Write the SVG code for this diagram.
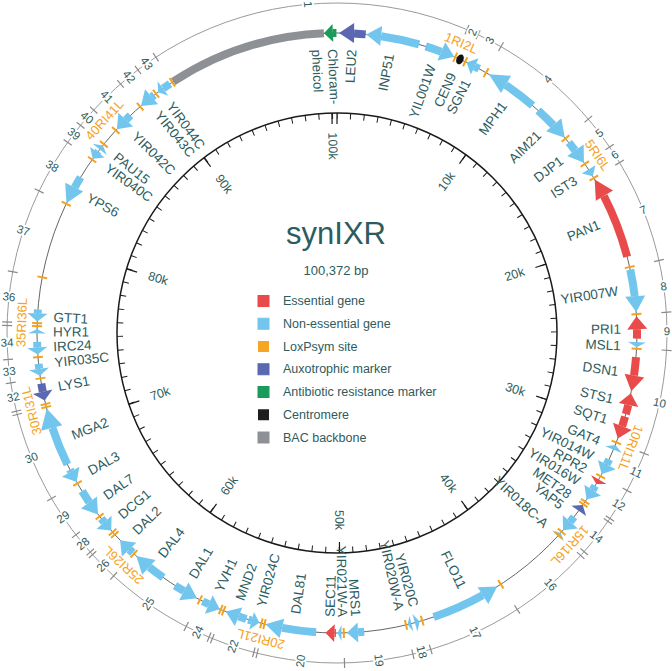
<svg xmlns="http://www.w3.org/2000/svg" width="672" height="671" viewBox="0 0 672 671">
<style>
text{font-family:"Liberation Sans",Arial,sans-serif;fill:#2d5c5e}
.gl{font-size:13.5px;dominant-baseline:central}
.ge{text-anchor:end}
.gs{text-anchor:start}
.kb{font-size:12.5px;text-anchor:middle;dominant-baseline:central}
.sn{font-size:11.5px;text-anchor:middle;dominant-baseline:central;stroke:#fff;stroke-width:4;paint-order:stroke;stroke-linejoin:round}
.lx{font-size:13px;text-anchor:middle;fill:#f4a21d}
.es{fill:#e94b4b;stroke:#e94b4b}
.ne{fill:#72c6ee;stroke:#72c6ee}
.ax{fill:#5a67b1;stroke:#5a67b1}
.ab{fill:#1a9b5a;stroke:#1a9b5a}
.bac{fill:#8d9196;stroke:#8d9196}
circle.b{fill:none;stroke-width:8}
polygon.h{stroke:none}
.lp line{stroke:#f4a21d;stroke-width:2}
.rt line{stroke:#8a8a8a;stroke-width:1.2}
.mj line{stroke:#1a1a1a;stroke-width:1.2}
.lg{font-size:12.5px;dominant-baseline:central}
</style>
<rect width="672" height="671" fill="#fff"/>
<g transform="translate(337,333)">
  <!-- scale circle -->
  <g id="scale">
    <circle r="220" fill="none" stroke="#1a1a1a" stroke-width="1.5"/>
    <circle r="217" fill="none" stroke="#1a1a1a" stroke-width="6" stroke-dasharray="1 12.584" stroke-dashoffset="0.5" transform="rotate(-90)"/>
    <g class="mj">
      <line y1="-209" y2="-220"/>
      <line y1="-209" y2="-220" transform="rotate(35.87)"/>
      <line y1="-209" y2="-220" transform="rotate(71.73)"/>
      <line y1="-209" y2="-220" transform="rotate(107.6)"/>
      <line y1="-209" y2="-220" transform="rotate(143.46)"/>
      <line y1="-209" y2="-220" transform="rotate(179.33)"/>
      <line y1="-209" y2="-220" transform="rotate(215.19)"/>
      <line y1="-209" y2="-220" transform="rotate(251.06)"/>
      <line y1="-209" y2="-220" transform="rotate(286.93)"/>
      <line y1="-209" y2="-220" transform="rotate(322.79)"/>
      <line y1="-209" y2="-220" transform="rotate(358.66)"/>
    </g>
    <text class="kb" transform="rotate(35.87) translate(0,-187) rotate(-90)">10k</text>
    <text class="kb" transform="rotate(71.73) translate(0,-187) rotate(-90)">20k</text>
    <text class="kb" transform="rotate(107.6) translate(0,-187) rotate(-90)">30k</text>
    <text class="kb" transform="rotate(143.46) translate(0,-187) rotate(-90)">40k</text>
    <text class="kb" transform="rotate(179.33) translate(0,-187) rotate(-90)">50k</text>
    <text class="kb" transform="rotate(215.19) translate(0,-187) rotate(90)">60k</text>
    <text class="kb" transform="rotate(251.06) translate(0,-187) rotate(90)">70k</text>
    <text class="kb" transform="rotate(286.93) translate(0,-187) rotate(90)">80k</text>
    <text class="kb" transform="rotate(322.79) translate(0,-187) rotate(90)">90k</text>
    <text class="kb" transform="rotate(358.66) translate(0,-187) rotate(90)">100k</text>
  </g>

  <!-- outer segment ring -->
  <g id="segments">
    <circle r="330" fill="none" stroke="#9a9a9a" stroke-width="1"/>
    <g class="rt">
      <line y1="-325" y2="-335" transform="rotate(23.2)"/><line y1="-325" y2="-335" transform="rotate(25.3)"/>
      <line y1="-325" y2="-335" transform="rotate(29.8)"/><line y1="-325" y2="-335" transform="rotate(49.6)"/>
      <line y1="-325" y2="-335" transform="rotate(55.7)"/><line y1="-325" y2="-335" transform="rotate(58.9)"/>
      <line y1="-325" y2="-335" transform="rotate(77.3)"/><line y1="-325" y2="-335" transform="rotate(86.4)"/>
      <line y1="-325" y2="-335" transform="rotate(93)"/><line y1="-325" y2="-335" transform="rotate(111.4)"/>
      <line y1="-325" y2="-335" transform="rotate(118.5)"/><line y1="-325" y2="-335" transform="rotate(124.2)"/>
      <line y1="-325" y2="-335" transform="rotate(124.8)"/><line y1="-325" y2="-335" transform="rotate(131.5)"/>
      <line y1="-325" y2="-335" transform="rotate(132.4)"/><line y1="-325" y2="-335" transform="rotate(146.9)"/>
      <line y1="-325" y2="-335" transform="rotate(163.5)"/><line y1="-325" y2="-335" transform="rotate(166.7)"/>
      <line y1="-325" y2="-335" transform="rotate(178.7)"/><line y1="-325" y2="-335" transform="rotate(194)"/>
      <line y1="-325" y2="-335" transform="rotate(194.6)"/><line y1="-325" y2="-335" transform="rotate(202.2)"/>
      <line y1="-325" y2="-335" transform="rotate(202.8)"/><line y1="-325" y2="-335" transform="rotate(207.2)"/>
      <line y1="-325" y2="-335" transform="rotate(222.6)"/><line y1="-325" y2="-335" transform="rotate(227.8)"/>
      <line y1="-325" y2="-335" transform="rotate(228.4)"/><line y1="-325" y2="-335" transform="rotate(232.3)"/>
      <line y1="-325" y2="-335" transform="rotate(239.9)"/><line y1="-325" y2="-335" transform="rotate(255.7)"/>
      <line y1="-325" y2="-335" transform="rotate(256.3)"/><line y1="-325" y2="-335" transform="rotate(261.3)"/>
      <line y1="-325" y2="-335" transform="rotate(265.4)"/><line y1="-325" y2="-335" transform="rotate(271.3)"/>
      <line y1="-325" y2="-335" transform="rotate(271.9)"/><line y1="-325" y2="-335" transform="rotate(280.7)"/>
      <line y1="-325" y2="-335" transform="rotate(295.5)"/><line y1="-325" y2="-335" transform="rotate(305.3)"/>
      <line y1="-325" y2="-335" transform="rotate(309)"/><line y1="-325" y2="-335" transform="rotate(312.5)"/>
      <line y1="-325" y2="-335" transform="rotate(319)"/><line y1="-325" y2="-335" transform="rotate(322.9)"/>
      <line y1="-325" y2="-335" transform="rotate(326.7)"/>
    </g>
    <text class="sn" transform="rotate(354.95) translate(0,-330) rotate(90)">1</text>
    <text class="sn" transform="rotate(24.25) translate(0,-330) rotate(-90)">2</text>
    <text class="sn" transform="rotate(27.55) translate(0,-330) rotate(-90)">3</text>
    <text class="sn" transform="rotate(39.7) translate(0,-330) rotate(-90)">4</text>
    <text class="sn" transform="rotate(52.65) translate(0,-330) rotate(-90)">5</text>
    <text class="sn" transform="rotate(57.3) translate(0,-330) rotate(-90)">6</text>
    <text class="sn" transform="rotate(68.1) translate(0,-330) rotate(-90)">7</text>
    <text class="sn" transform="rotate(81.85) translate(0,-330) rotate(-90)">8</text>
    <text class="sn" transform="rotate(89.7) translate(0,-330) rotate(-90)">9</text>
    <text class="sn" transform="rotate(102.2) translate(0,-330) rotate(-90)">10</text>
    <text class="sn" transform="rotate(114.95) translate(0,-330) rotate(-90)">11</text>
    <text class="sn" transform="rotate(121.35) translate(0,-330) rotate(-90)">12</text>
    <text class="sn" transform="rotate(128.15) translate(0,-330) rotate(-90)">14</text>
    <text class="sn" transform="rotate(139.65) translate(0,-330) rotate(-90)">16</text>
    <text class="sn" transform="rotate(155.2) translate(0,-330) rotate(-90)">17</text>
    <text class="sn" transform="rotate(165.1) translate(0,-330) rotate(-90)">18</text>
    <text class="sn" transform="rotate(172.7) translate(0,-330) rotate(-90)">19</text>
    <text class="sn" transform="rotate(186.35) translate(0,-330) rotate(90)">20</text>
    <text class="sn" transform="rotate(198.4) translate(0,-330) rotate(90)">22</text>
    <text class="sn" transform="rotate(205) translate(0,-330) rotate(90)">24</text>
    <text class="sn" transform="rotate(214.9) translate(0,-330) rotate(90)">25</text>
    <text class="sn" transform="rotate(225.2) translate(0,-330) rotate(90)">26</text>
    <text class="sn" transform="rotate(230.35) translate(0,-330) rotate(90)">28</text>
    <text class="sn" transform="rotate(236.1) translate(0,-330) rotate(90)">29</text>
    <text class="sn" transform="rotate(247.8) translate(0,-330) rotate(90)">30</text>
    <text class="sn" transform="rotate(258.8) translate(0,-330) rotate(90)">32</text>
    <text class="sn" transform="rotate(263.35) translate(0,-330) rotate(90)">33</text>
    <text class="sn" transform="rotate(268.35) translate(0,-330) rotate(90)">34</text>
    <text class="sn" transform="rotate(276.3) translate(0,-330) rotate(90)">36</text>
    <text class="sn" transform="rotate(288.1) translate(0,-330) rotate(90)">37</text>
    <text class="sn" transform="rotate(300.4) translate(0,-330) rotate(90)">38</text>
    <text class="sn" transform="rotate(307.15) translate(0,-330) rotate(90)">39</text>
    <text class="sn" transform="rotate(310.75) translate(0,-330) rotate(90)">40</text>
    <text class="sn" transform="rotate(315.75) translate(0,-330) rotate(90)">41</text>
    <text class="sn" transform="rotate(320.95) translate(0,-330) rotate(90)">42</text>
    <text class="sn" transform="rotate(324.8) translate(0,-330) rotate(90)">43</text>
  </g>

  <!-- gene track backbone line -->
  <circle id="track" r="300" fill="none" stroke="#555" stroke-width="0.9"/>

  <g id="features">
    <g id="bac"><circle class="b bac" r="300" stroke-dasharray="160.22 2000" transform="rotate(236.9)"/></g>
    <g id="CamR"><circle class="b ab" r="300" stroke-dasharray="3.56 2000" transform="rotate(269.22)"/><polygon class="h ab" points="0,-300 9,-309 9,-291" transform="rotate(357.5)"/>
      <text class="gl gs" transform="rotate(357.55) translate(0,-284) rotate(90)"><tspan x="0" y="-8">Chloram-</tspan><tspan x="0" y="8">pheicol</tspan></text></g>
    <g id="LEU2"><circle class="b ax" r="300" stroke-dasharray="11.73 2000" transform="rotate(-86.74)"/><polygon class="h ax" points="0,-300 15,-310 15,-290" transform="rotate(0.4)"/>
      <text class="gl ge" transform="rotate(3) translate(0,-284) rotate(-90)">LEU2</text></g>
    <g id="INP51"><circle class="b ne" r="300" stroke-dasharray="38.96 2000" transform="rotate(-81.54)"/><polygon class="h ne" points="0,-300 15,-310 15,-290" transform="rotate(5.6)"/>
      <text class="gl ge" transform="rotate(10.7) translate(0,-284) rotate(-90)">INP51</text></g>
    <g id="YIL001W"><circle class="b ne" r="300" stroke-dasharray="16.39 2000" transform="rotate(-72.8)"/><polygon class="h ne" points="0,-300 -14,-310 -14,-290" transform="rotate(23)"/>
      <text class="gl ge" transform="rotate(19.5) translate(0,-284) rotate(-90)">YIL001W</text></g>
    <g id="CEN9"><ellipse cy="-300" rx="3.5" ry="5.2" fill="#111" transform="rotate(24.2)"/>
      <text class="gl ge" transform="rotate(24) translate(0,-284) rotate(-90)">CEN9</text></g>
    <g id="SGN1"><circle class="b ne" r="300" stroke-dasharray="5.13 2000" transform="rotate(-62.68)"/><polygon class="h ne" points="0,-300 9,-309 9,-291" transform="rotate(25.6)"/>
      <text class="gl ge" transform="rotate(27.3) translate(0,-284) rotate(-90)">SGN1</text></g>
    <g id="MPH1"><circle class="b ne" r="300" stroke-dasharray="33.93 2000" transform="rotate(-55.78)"/><polygon class="h ne" points="0,-300 20,-310 20,-290" transform="rotate(30.4)"/>
      <text class="gl ge" transform="rotate(36) translate(0,-284) rotate(-90)">MPH1</text></g>
    <g id="AIM21"><circle class="b ne" r="300" stroke-dasharray="21.21 2000" transform="rotate(-47.9)"/><polygon class="h ne" points="0,-300 -17,-310 -17,-290" transform="rotate(49.4)"/>
      <text class="gl ge" transform="rotate(45.3) translate(0,-284) rotate(-90)">AIM21</text></g>
    <g id="DJP1"><circle class="b ne" r="300" stroke-dasharray="10.16 2000" transform="rotate(-39.4)"/><polygon class="h ne" points="0,-300 -15,-310 -15,-290" transform="rotate(55.4)"/>
      <text class="gl ge" transform="rotate(52.3) translate(0,-284) rotate(-90)">DJP1</text></g>
    <g id="IST3"><polygon class="h ne" points="0,-300 -8,-308 -8,-292" transform="rotate(58.5)"/>
      <text class="gl ge" transform="rotate(57.3) translate(0,-284) rotate(-90)">IST3</text></g>
    <g id="PAN1"><circle class="b es" r="300" stroke-dasharray="65.29 2000" transform="rotate(-27.17)"/><polygon class="h es" points="0,-300 19,-310 19,-290" transform="rotate(59.2)"/>
      <text class="gl ge" transform="rotate(67.5) translate(0,-284) rotate(-90)">PAN1</text></g>
    <g id="YIR007W"><circle class="b ne" r="300" stroke-dasharray="26.91 2000" transform="rotate(-12.2)"/><polygon class="h ne" points="0,-300 -16,-310 -16,-290" transform="rotate(86)"/>
      <text class="gl ge" transform="rotate(81.5) translate(0,-284) rotate(-90)">YIR007W</text></g>
    <g id="PRI1"><circle class="b es" r="300" stroke-dasharray="9.53 2000" transform="rotate(-0.72)"/><polygon class="h es" points="0,-300 13,-310 13,-290" transform="rotate(86.8)"/>
      <text class="gl ge" transform="rotate(89.2) translate(0,-284) rotate(-90)">PRI1</text></g>
    <g id="MSL1"><polygon class="h ne" points="0,-300 -5,-309 -5,-291" transform="rotate(92.7)"/>
      <text class="gl ge" transform="rotate(92.6) translate(0,-284) rotate(-90)">MSL1</text></g>
    <g id="DSN1"><circle class="b es" r="300" stroke-dasharray="18.54 2000" transform="rotate(4.6)"/><polygon class="h es" points="0,-300 -16,-310 -16,-290" transform="rotate(101.2)"/>
      <text class="gl ge" transform="rotate(97.8) translate(0,-284) rotate(-90)">DSN1</text></g>
    <g id="STS1"><circle class="b es" r="300" stroke-dasharray="9.48 2000" transform="rotate(13.89)"/><polygon class="h es" points="0,-300 12,-310 12,-290" transform="rotate(101.6)"/>
      <text class="gl ge" transform="rotate(103.5) translate(0,-284) rotate(-90)">STS1</text></g>
    <g id="SQT1"><circle class="b es" r="300" stroke-dasharray="10.05 2000" transform="rotate(16.2)"/><polygon class="h es" points="0,-300 -13,-310 -13,-290" transform="rotate(110.6)"/>
      <text class="gl ge" transform="rotate(107.8) translate(0,-284) rotate(-90)">SQT1</text></g>
    <g id="GAT4"><polygon class="h ne" points="0,-300 5,-309 5,-291" transform="rotate(111.9)"/>
      <text class="gl ge" transform="rotate(112.4) translate(0,-284) rotate(-90)">GAT4</text></g>
    <g id="YIR014W"><circle class="b ne" r="300" stroke-dasharray="5.76 2000" transform="rotate(24.9)"/><polygon class="h ne" points="0,-300 -11,-310 -11,-290" transform="rotate(118.1)"/>
      <text class="gl ge" transform="rotate(115.7) translate(0,-284) rotate(-90)">YIR014W</text></g>
    <g id="RPR2"><polygon class="h es" points="0,-300 -5,-309 -5,-291" transform="rotate(120.2)"/>
      <text class="gl ge" transform="rotate(118.7) translate(0,-284) rotate(-90)">RPR2</text></g>
    <g id="YIR016W"><circle class="b ne" r="300" stroke-dasharray="5.24 2000" transform="rotate(30.6)"/><polygon class="h ne" points="0,-300 -11,-310 -11,-290" transform="rotate(123.7)"/>
      <text class="gl ge" transform="rotate(121.6) translate(0,-284) rotate(-90)">YIR016W</text></g>
    <g id="MET28"><polygon class="h ax" points="0,-300 7,-309 7,-291" transform="rotate(125)"/>
      <text class="gl ge" transform="rotate(124.9) translate(0,-284) rotate(-90)">MET28</text></g>
    <g id="YAP5"><circle class="b ne" r="300" stroke-dasharray="6.28 2000" transform="rotate(37.8)"/><polygon class="h ne" points="0,-300 -11,-310 -11,-290" transform="rotate(131.1)"/>
      <text class="gl ge" transform="rotate(127.6) translate(0,-284) rotate(-90)">YAP5</text></g>
    <g id="YIR018C-A"><polygon class="h ne" points="0,-300 4,-308 4,-292" transform="rotate(131.8)"/>
      <text class="gl ge" transform="rotate(132.6) translate(0,-284) rotate(-90)">YIR018C-A</text></g>
    <g id="FLO11"><circle class="b ne" r="300" stroke-dasharray="53.67 2000" transform="rotate(60.95)"/><polygon class="h ne" points="0,-300 17,-310 17,-290" transform="rotate(147.7)"/>
      <text class="gl ge" transform="rotate(153.8) translate(0,-284) rotate(-90)">FLO11</text></g>
    <g id="YIR020C"><polygon class="h ne" points="0,-300 5,-309 5,-291" transform="rotate(164)"/>
      <text class="gl ge" transform="rotate(164.3) translate(0,-284) rotate(-90)">YIR020C</text></g>
    <g id="YIR020W-A"><polygon class="h ne" points="0,-300 -4,-308 -4,-292" transform="rotate(166.4)"/>
      <text class="gl ge" transform="rotate(167.3) translate(0,-284) rotate(-90)">YIR020W-A</text></g>
    <g id="MRS1"><circle class="b ne" r="300" stroke-dasharray="6.28 2000" transform="rotate(84.8)"/><polygon class="h ne" points="0,-300 -11,-310 -11,-290" transform="rotate(178.1)"/>
      <text class="gl ge" transform="rotate(176.2) translate(0,-284) rotate(-90)">MRS1</text></g>
    <g id="YIR021W-A"><polygon class="h ne" points="0,-300 -4,-308 -4,-292" transform="rotate(179.9)"/>
      <text class="gl ge" transform="rotate(178.9) translate(0,-284) rotate(-90)">YIR021W-A</text></g>
    <g id="SEC11"><circle class="b es" r="300" stroke-dasharray="1.47 2000" transform="rotate(90.2)"/><polygon class="h es" points="0,-300 -9,-309 -9,-291" transform="rotate(182.2)"/>
      <text class="gl gs" transform="rotate(181.4) translate(0,-284) rotate(90)">SEC11</text></g>
    <g id="DAL81"><circle class="b ne" r="300" stroke-dasharray="34.3 2000" transform="rotate(94)"/><polygon class="h ne" points="0,-300 -17,-310 -17,-290" transform="rotate(193.8)"/>
      <text class="gl gs" transform="rotate(188.4) translate(0,-284) rotate(90)">DAL81</text></g>
    <g id="YIR024C"><circle class="b ne" r="300" stroke-dasharray="3.51 2000" transform="rotate(106.53)"/><polygon class="h ne" points="0,-300 8,-309 8,-291" transform="rotate(195)"/>
      <text class="gl gs" transform="rotate(195.5) translate(0,-284) rotate(90)">YIR024C</text></g>
    <g id="MND2"><circle class="b ne" r="300" stroke-dasharray="8.01 2000" transform="rotate(107.6)"/><polygon class="h ne" points="0,-300 -14,-310 -14,-290" transform="rotate(201.8)"/>
      <text class="gl gs" transform="rotate(200) translate(0,-284) rotate(90)">MND2</text></g>
    <g id="YVH1"><circle class="b ne" r="300" stroke-dasharray="6.86 2000" transform="rotate(115.29)"/><polygon class="h ne" points="0,-300 12,-310 12,-290" transform="rotate(203)"/>
      <text class="gl gs" transform="rotate(204.6) translate(0,-284) rotate(90)">YVH1</text></g>
    <g id="DAL1"><circle class="b ne" r="300" stroke-dasharray="10.68 2000" transform="rotate(120.66)"/><polygon class="h ne" points="0,-300 15,-310 15,-290" transform="rotate(207.8)"/>
      <text class="gl gs" transform="rotate(210.6) translate(0,-284) rotate(90)">DAL1</text></g>
    <g id="DAL4"><circle class="b ne" r="300" stroke-dasharray="17.54 2000" transform="rotate(125.4)"/><polygon class="h ne" points="0,-300 -17,-310 -17,-290" transform="rotate(222)"/>
      <text class="gl gs" transform="rotate(218.3) translate(0,-284) rotate(90)">DAL4</text></g>
    <g id="DAL2"><circle class="b ne" r="300" stroke-dasharray="4.82 2000" transform="rotate(132.9)"/><polygon class="h ne" points="0,-300 -13,-310 -13,-290" transform="rotate(226.3)"/>
      <text class="gl gs" transform="rotate(225.4) translate(0,-284) rotate(90)">DAL2</text></g>
    <g id="DCG1"><circle class="b ne" r="300" stroke-dasharray="4.71 2000" transform="rotate(140.9)"/><polygon class="h ne" points="0,-300 11,-310 11,-290" transform="rotate(228.8)"/>
      <text class="gl gs" transform="rotate(229.8) translate(0,-284) rotate(90)">DCG1</text></g>
    <g id="DAL7"><circle class="b ne" r="300" stroke-dasharray="13.3 2000" transform="rotate(145.66)"/><polygon class="h ne" points="0,-300 15,-310 15,-290" transform="rotate(232.8)"/>
      <text class="gl gs" transform="rotate(234.8) translate(0,-284) rotate(90)">DAL7</text></g>
    <g id="DAL3"><circle class="b ne" r="300" stroke-dasharray="2.15 2000" transform="rotate(152.49)"/><polygon class="h ne" points="0,-300 12,-310 12,-290" transform="rotate(240.2)"/>
      <text class="gl gs" transform="rotate(240.8) translate(0,-284) rotate(90)">DAL3</text></g>
    <g id="MGA2"><circle class="b ne" r="300" stroke-dasharray="39.69 2000" transform="rotate(154)"/><polygon class="h ne" points="0,-300 -20,-311 -20,-289" transform="rotate(255.4)"/>
      <text class="gl gs" transform="rotate(248.8) translate(0,-284) rotate(90)">MGA2</text></g>
    <g id="LYS1"><circle class="b ax" r="300" stroke-dasharray="8.27 2000" transform="rotate(168.72)"/><polygon class="h ax" points="0,-300 9,-310 9,-290" transform="rotate(257)"/>
      <text class="gl gs" transform="rotate(259.1) translate(0,-284) rotate(90)">LYS1</text></g>
    <g id="YIR035C"><circle class="b ne" r="300" stroke-dasharray="5.03 2000" transform="rotate(173.14)"/><polygon class="h ne" points="0,-300 7,-310 7,-290" transform="rotate(261.8)"/>
      <text class="gl gs" transform="rotate(264) translate(0,-284) rotate(90)">YIR035C</text></g>
    <g id="IRC24"><circle class="b ne" r="300" stroke-dasharray="5.55 2000" transform="rotate(177.24)"/><polygon class="h ne" points="0,-300 7,-310 7,-290" transform="rotate(265.9)"/>
      <text class="gl gs" transform="rotate(267.2) translate(0,-284) rotate(90)">IRC24</text></g>
    <g id="HYR1"><polygon class="h ne" points="0,-300 -4,-309 -4,-291" transform="rotate(270.7)"/>
      <text class="gl gs" transform="rotate(270.2) translate(0,-284) rotate(90)">HYR1</text></g>
    <g id="GTT1"><circle class="b ne" r="300" stroke-dasharray="4.03 2000" transform="rotate(183.73)"/><polygon class="h ne" points="0,-300 8,-310 8,-290" transform="rotate(272.2)"/>
      <text class="gl gs" transform="rotate(273.2) translate(0,-284) rotate(90)">GTT1</text></g>
    <g id="YPS6"><circle class="b ne" r="300" stroke-dasharray="11.83 2000" transform="rotate(209.04)"/><polygon class="h ne" points="0,-300 18,-310 18,-290" transform="rotate(295.6)"/>
      <text class="gl gs" transform="rotate(298.6) translate(0,-284) rotate(90)">YPS6</text></g>
    <g id="YIR040C"><circle class="b ne" r="300" stroke-dasharray="1.57 2000" transform="rotate(217)"/><polygon class="h ne" points="0,-300 8,-309 8,-291" transform="rotate(305.5)"/>
      <text class="gl gs" transform="rotate(305.8) translate(0,-284) rotate(90)">YIR040C</text></g>
    <g id="PAU15"><polygon class="h ne" points="0,-300 -5,-309 -5,-291" transform="rotate(308.7)"/>
      <text class="gl gs" transform="rotate(308.7) translate(0,-284) rotate(90)">PAU15</text></g>
    <g id="YIR042C"><circle class="b ne" r="300" stroke-dasharray="6.39 2000" transform="rotate(225.28)"/><polygon class="h ne" points="0,-300 13,-310 13,-290" transform="rotate(312.8)"/>
      <text class="gl gs" transform="rotate(314.4) translate(0,-284) rotate(90)">YIR042C</text></g>
    <g id="YIR043C"><circle class="b ne" r="300" stroke-dasharray="3.3 2000" transform="rotate(231.87)"/><polygon class="h ne" points="0,-300 14,-310 14,-290" transform="rotate(319.2)"/>
      <text class="gl gs" transform="rotate(320.8) translate(0,-284) rotate(90)">YIR043C</text></g>
    <g id="YIR044C"><circle class="b ne" r="300" stroke-dasharray="8.38 2000" transform="rotate(234.6)"/><polygon class="h ne" points="0,-300 6,-309 6,-291" transform="rotate(323.4)"/>
      <text class="gl gs" transform="rotate(323.9) translate(0,-284) rotate(90)">YIR044C</text></g>
  </g>

  <!-- loxPsym sites -->
  <g id="loxpsym" class="lp">
    <line y1="-295" y2="-305" transform="rotate(23.2)"/><line y1="-295" y2="-305" transform="rotate(25.3)"/>
    <line y1="-295" y2="-305" transform="rotate(29.8)"/><line y1="-295" y2="-305" transform="rotate(49.6)"/>
    <line y1="-295" y2="-305" transform="rotate(55.7)"/><line y1="-295" y2="-305" transform="rotate(58.9)"/>
    <line y1="-295" y2="-305" transform="rotate(77.3)"/><line y1="-295" y2="-305" transform="rotate(86.4)"/>
    <line y1="-295" y2="-305" transform="rotate(93)"/><line y1="-295" y2="-305" transform="rotate(111.4)"/>
    <line y1="-295" y2="-305" transform="rotate(118.5)"/><line y1="-295" y2="-305" transform="rotate(124.2)"/>
    <line y1="-295" y2="-305" transform="rotate(124.8)"/><line y1="-295" y2="-305" transform="rotate(131.5)"/>
    <line y1="-295" y2="-305" transform="rotate(132.4)"/><line y1="-295" y2="-305" transform="rotate(146.9)"/>
    <line y1="-295" y2="-305" transform="rotate(163.5)"/><line y1="-295" y2="-305" transform="rotate(166.7)"/>
    <line y1="-295" y2="-305" transform="rotate(178.7)"/><line y1="-295" y2="-305" transform="rotate(194)"/>
    <line y1="-295" y2="-305" transform="rotate(194.6)"/><line y1="-295" y2="-305" transform="rotate(202.2)"/>
    <line y1="-295" y2="-305" transform="rotate(202.8)"/><line y1="-295" y2="-305" transform="rotate(207.2)"/>
    <line y1="-295" y2="-305" transform="rotate(222.6)"/><line y1="-295" y2="-305" transform="rotate(227.8)"/>
    <line y1="-295" y2="-305" transform="rotate(228.4)"/><line y1="-295" y2="-305" transform="rotate(232.3)"/>
    <line y1="-295" y2="-305" transform="rotate(239.9)"/><line y1="-295" y2="-305" transform="rotate(255.7)"/>
    <line y1="-295" y2="-305" transform="rotate(256.3)"/><line y1="-295" y2="-305" transform="rotate(261.3)"/>
    <line y1="-295" y2="-305" transform="rotate(265.4)"/><line y1="-295" y2="-305" transform="rotate(271.3)"/>
    <line y1="-295" y2="-305" transform="rotate(271.9)"/><line y1="-295" y2="-305" transform="rotate(280.7)"/>
    <line y1="-295" y2="-305" transform="rotate(295.5)"/><line y1="-295" y2="-305" transform="rotate(305.3)"/>
    <line y1="-295" y2="-305" transform="rotate(309)"/><line y1="-295" y2="-305" transform="rotate(312.5)"/>
    <line y1="-295" y2="-305" transform="rotate(319)"/><line y1="-295" y2="-305" transform="rotate(322.9)"/>
    <line y1="-295" y2="-305" transform="rotate(326.7)"/>
    <text class="lx" transform="rotate(23.2) translate(0,-311)">1RI2L</text>
    <text class="lx" transform="rotate(55.7) translate(0,-311)">5RI6L</text>
    <text class="lx" transform="rotate(111.4) translate(0,-311)">10RI11L</text>
    <text class="lx" transform="rotate(132.4) translate(0,-311)">15RI16L</text>
    <text class="lx" transform="rotate(194) translate(0,-311)">20RI21L</text>
    <text class="lx" transform="rotate(222.6) translate(0,-311)">25RI26L</text>
    <text class="lx" transform="rotate(255.7) translate(0,-311)">30RI31L</text>
    <text class="lx" transform="rotate(271.9) translate(0,-311)">35RI36L</text>
    <text class="lx" transform="rotate(312.5) translate(0,-311)">40RI41L</text>
  </g>
</g>

<!-- centre title and legend -->
<g id="title">
  <text x="336" y="244" font-size="31" text-anchor="middle">synIXR</text>
  <text x="336" y="275" font-size="13" text-anchor="middle">100,372 bp</text>
</g>
<g id="legend">
  <rect x="258" y="295.5" width="11" height="11" class="es"/><text class="lg" x="283" y="301">Essential gene</text>
  <rect x="258" y="318.25" width="11" height="11" class="ne"/><text class="lg" x="283" y="323.75">Non-essential gene</text>
  <rect x="258" y="341" width="11" height="11" fill="#f6a623"/><text class="lg" x="283" y="346.5">LoxPsym site</text>
  <rect x="258" y="363.75" width="11" height="11" class="ax"/><text class="lg" x="283" y="369.25">Auxotrophic marker</text>
  <rect x="258" y="386.5" width="11" height="11" class="ab"/><text class="lg" x="283" y="392">Antibiotic resistance marker</text>
  <rect x="258" y="409.25" width="11" height="11" fill="#1e1e1e"/><text class="lg" x="283" y="414.75">Centromere</text>
  <rect x="258" y="432" width="11" height="11" class="bac"/><text class="lg" x="283" y="437.5">BAC backbone</text>
</g>
</svg>
